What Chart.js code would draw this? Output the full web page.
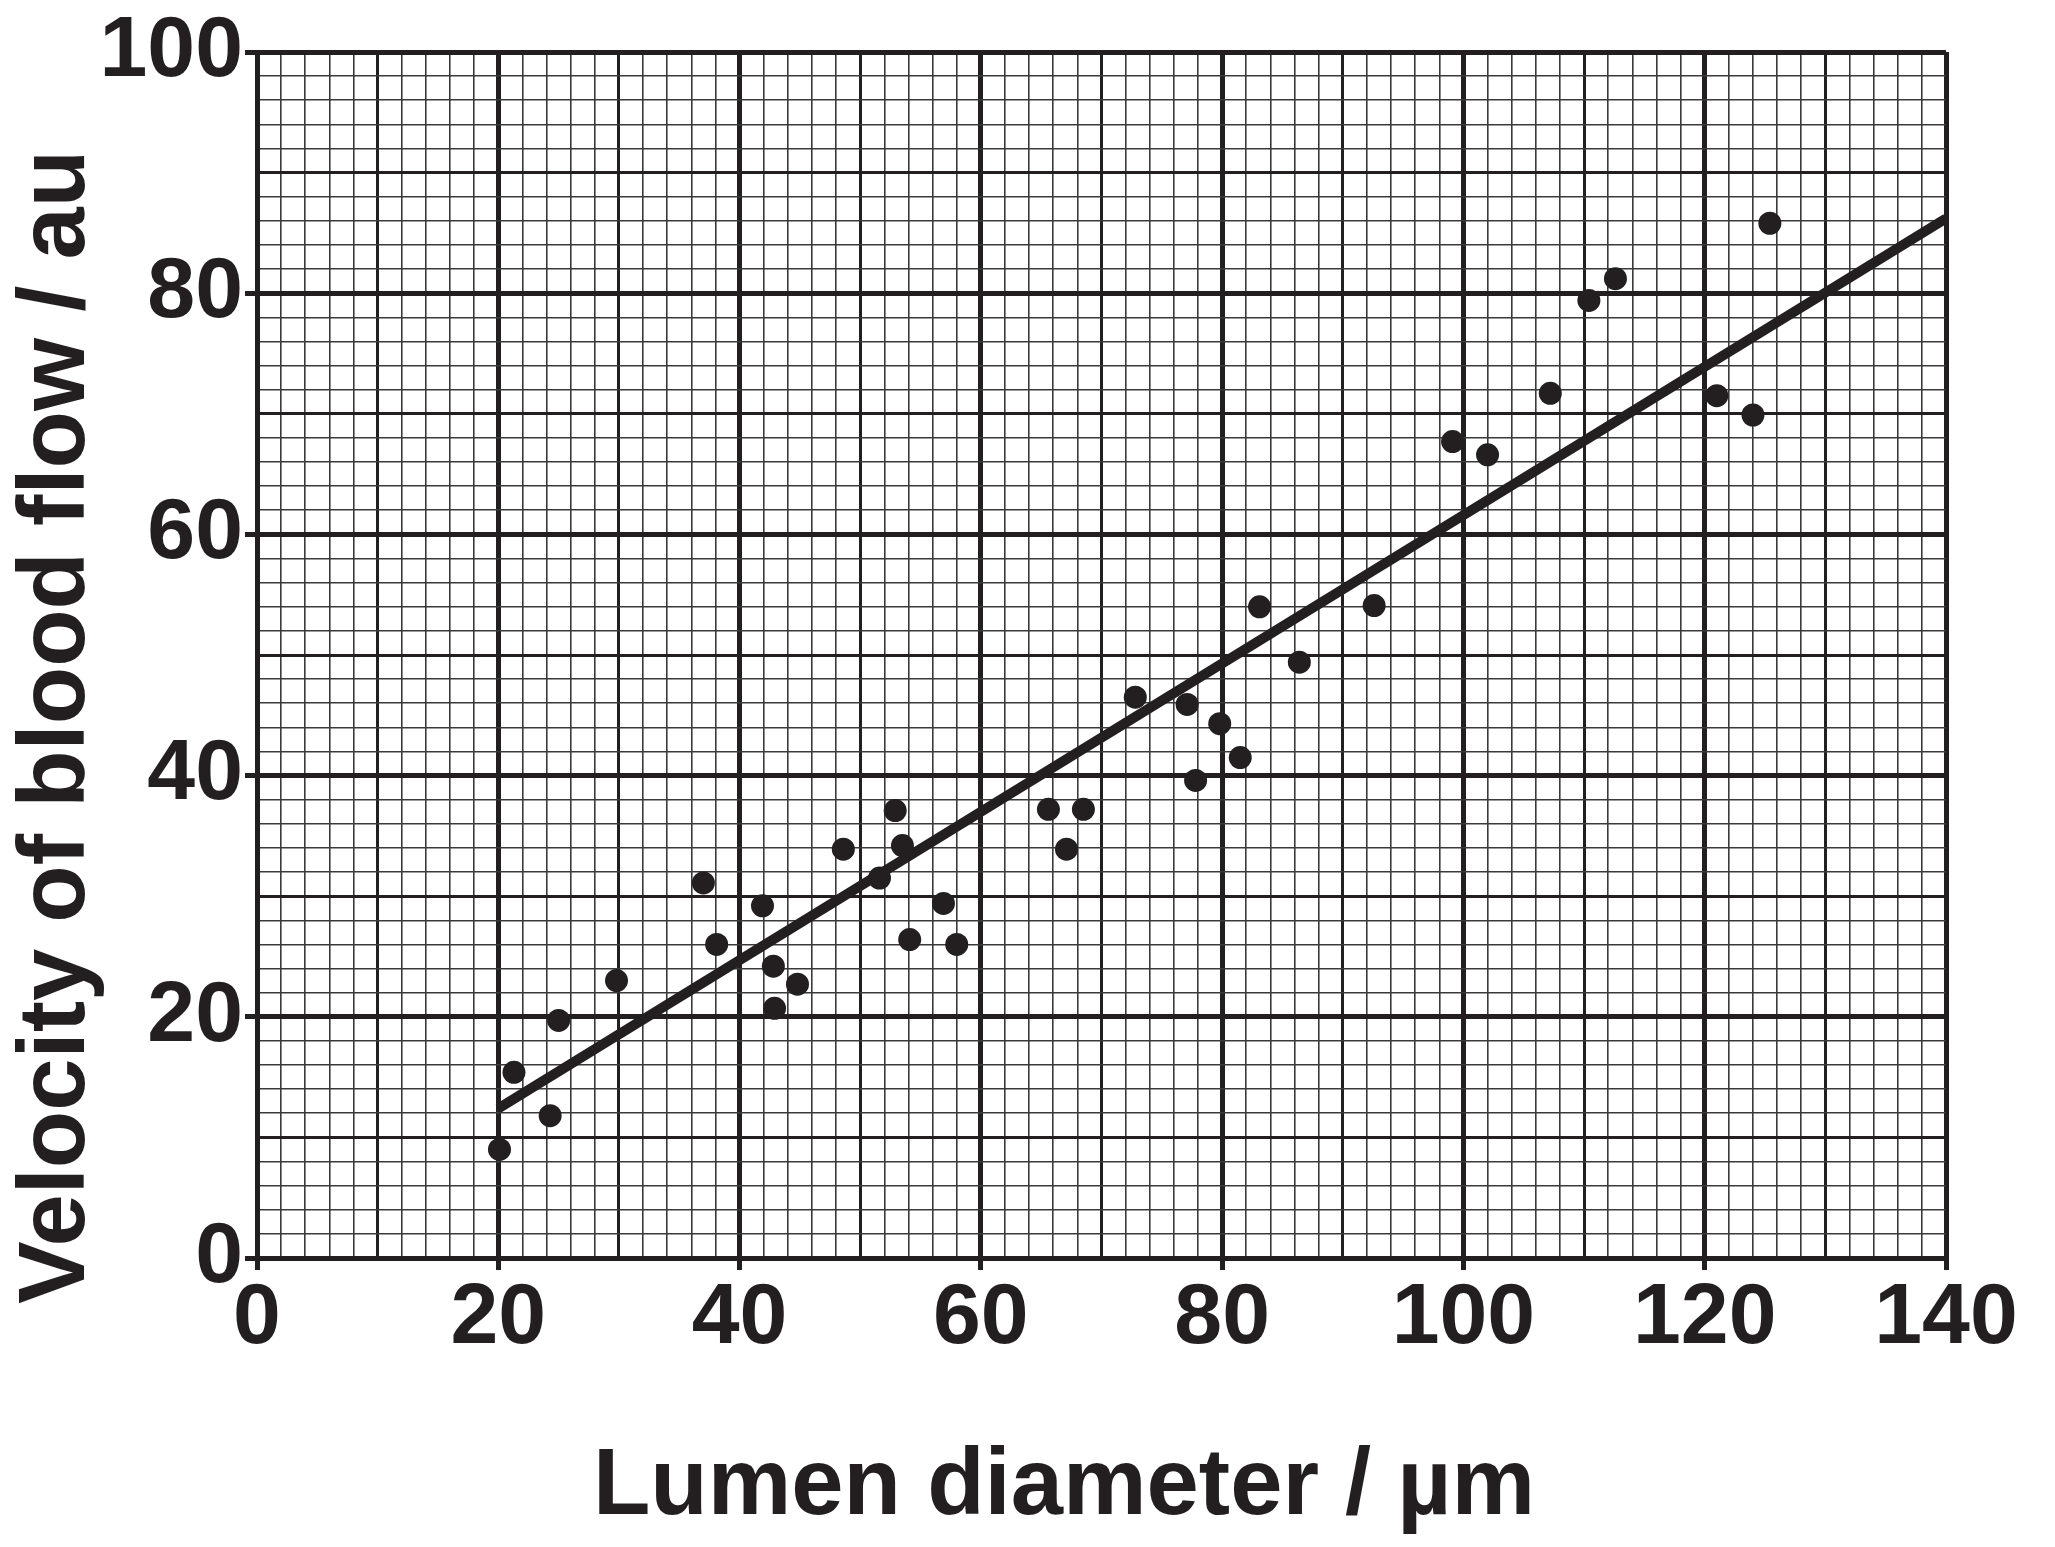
<!DOCTYPE html>
<html>
<head>
<meta charset="utf-8">
<title>Velocity of blood flow vs lumen diameter</title>
<script src="https://cdn.jsdelivr.net/npm/chart.js@4.4.1/dist/chart.umd.min.js"></script>
<style>
    html, body { margin: 0; padding: 0; background: #fff; }
    #wrap { width: 2055px; height: 1547px; position: relative; }
</style>
</head>
<body>
<div id="wrap"><canvas id="bloodChart"></canvas></div>
<script>
// Dados
const lumenDiameter = [20.1, 21.3, 24.3, 25.0, 29.8, 37.0, 38.1, 41.9, 42.8, 42.9,
    44.8, 48.6, 51.6, 52.9, 53.5, 54.1, 56.9, 58.0, 65.6, 67.1,
    68.5, 72.8, 77.1, 77.8, 79.8, 81.5, 83.1, 86.4, 92.6, 99.1,
    102.0, 107.2, 110.4, 112.6, 121.0, 124.0, 125.4];
const bloodVelocity = [9.0, 15.4, 11.8, 19.7, 23.0, 31.1, 26.0, 29.2, 24.2, 20.7,
    22.7, 33.9, 31.5, 37.1, 34.2, 26.4, 29.4, 26.0, 37.2, 33.9,
    37.2, 46.5, 45.9, 39.6, 44.3, 41.5, 54.0, 49.4, 54.1, 67.7,
    66.6, 71.7, 79.4, 81.2, 71.5, 69.9, 85.8];

// Linha de tendência (extremos)
const trendX = [20, 140];
const trendY = [12.4, 86.2];

const xTickLabels = [0, 20, 40, 60, 80, 100, 120, 140];
const yTickLabels = [0, 20, 40, 60, 80, 100];

const xTitle = 'Lumen diameter / µm';
const yTitle = 'Velocity of blood flow / au';

const INK = '#231f20';
const FONT = '"Liberation Sans", Arial, Helvetica, sans-serif';

// Estilo de papel milimetrado: forte a cada 20, médio a cada 10, fino a cada 2
function gridWidth(ctx) {
    if (!ctx.tick) return 1.6;
    const v = Math.round(ctx.tick.value);
    if (v % 20 === 0) return 5;
    if (v % 10 === 0) return 3;
    return 1.6;
}
function gridColor(ctx) {
    if (!ctx.tick) return '#3a3a3a';
    const v = Math.round(ctx.tick.value);
    return v % 10 === 0 ? INK : '#3a3a3a';
}
function tickColor(ctx) {
    if (!ctx.tick) return 'rgba(0,0,0,0)';
    return Math.round(ctx.tick.value) % 20 === 0 ? INK : 'rgba(0,0,0,0)';
}

// Títulos dos eixos desenhados em posição fixa
const axisTitlesPlugin = {
    id: 'axisTitles',
    afterDraw(chart) {
        const c = chart.ctx;
        c.save();
        c.fillStyle = INK;
        c.font = 'bold 94px ' + FONT;
        c.textAlign = 'center';
        c.textBaseline = 'middle';
        c.fillText(xTitle, 1064, 1488);
        c.translate(58, 727);
        c.rotate(-Math.PI / 2);
        c.fillText(yTitle, 0, 0);
        c.restore();
    }
};

const points = lumenDiameter.map((x, i) => ({ x: x, y: bloodVelocity[i] }));
const trend = trendX.map((x, i) => ({ x: x, y: trendY[i] }));

new Chart(document.getElementById('bloodChart'), {
    type: 'scatter',
    data: {
        datasets: [
            {
                label: 'Measured',
                data: points,
                pointRadius: 11.5,
                pointBackgroundColor: INK,
                pointBorderWidth: 0,
                order: 1
            },
            {
                type: 'line',
                label: 'Trend',
                data: trend,
                borderColor: INK,
                borderWidth: 10,
                borderCapStyle: 'butt',
                pointRadius: 0,
                fill: false,
                order: 2
            }
        ]
    },
    options: {
        responsive: true,
        maintainAspectRatio: false,
        animation: false,
        layout: { padding: { left: 0, top: 52, right: 109, bottom: 0 } },
        plugins: {
            legend: { display: false },
            tooltip: { enabled: false }
        },
        scales: {
            x: {
                type: 'linear',
                min: 0,
                max: 140,
                afterFit: (s) => { s.height = 289; },
                border: { display: true, width: 5, color: INK },
                grid: {
                    lineWidth: gridWidth,
                    color: gridColor,
                    tickLength: 12,
                    tickWidth: 5,
                    tickColor: tickColor
                },
                ticks: {
                    stepSize: 2,
                    autoSkip: false,
                    maxRotation: 0,
                    minRotation: 0,
                    padding: 6,
                    color: INK,
                    font: { family: FONT, size: 86, weight: 'bold', lineHeight: 1 },
                    callback: (v) => xTickLabels.includes(Math.round(v)) ? String(Math.round(v)) : ''
                }
            },
            y: {
                type: 'linear',
                min: 0,
                max: 100,
                afterFit: (s) => { s.width = 257; },
                border: { display: true, width: 5, color: INK },
                grid: {
                    lineWidth: gridWidth,
                    color: gridColor,
                    tickLength: 12,
                    tickWidth: 5,
                    tickColor: tickColor
                },
                ticks: {
                    stepSize: 2,
                    autoSkip: false,
                    padding: 2,
                    color: INK,
                    font: { family: FONT, size: 86, weight: 'bold', lineHeight: 1 },
                    callback: (v) => yTickLabels.includes(Math.round(v)) ? String(Math.round(v)) : ''
                }
            }
        }
    },
    plugins: [axisTitlesPlugin]
});
</script>
</body>
</html>
